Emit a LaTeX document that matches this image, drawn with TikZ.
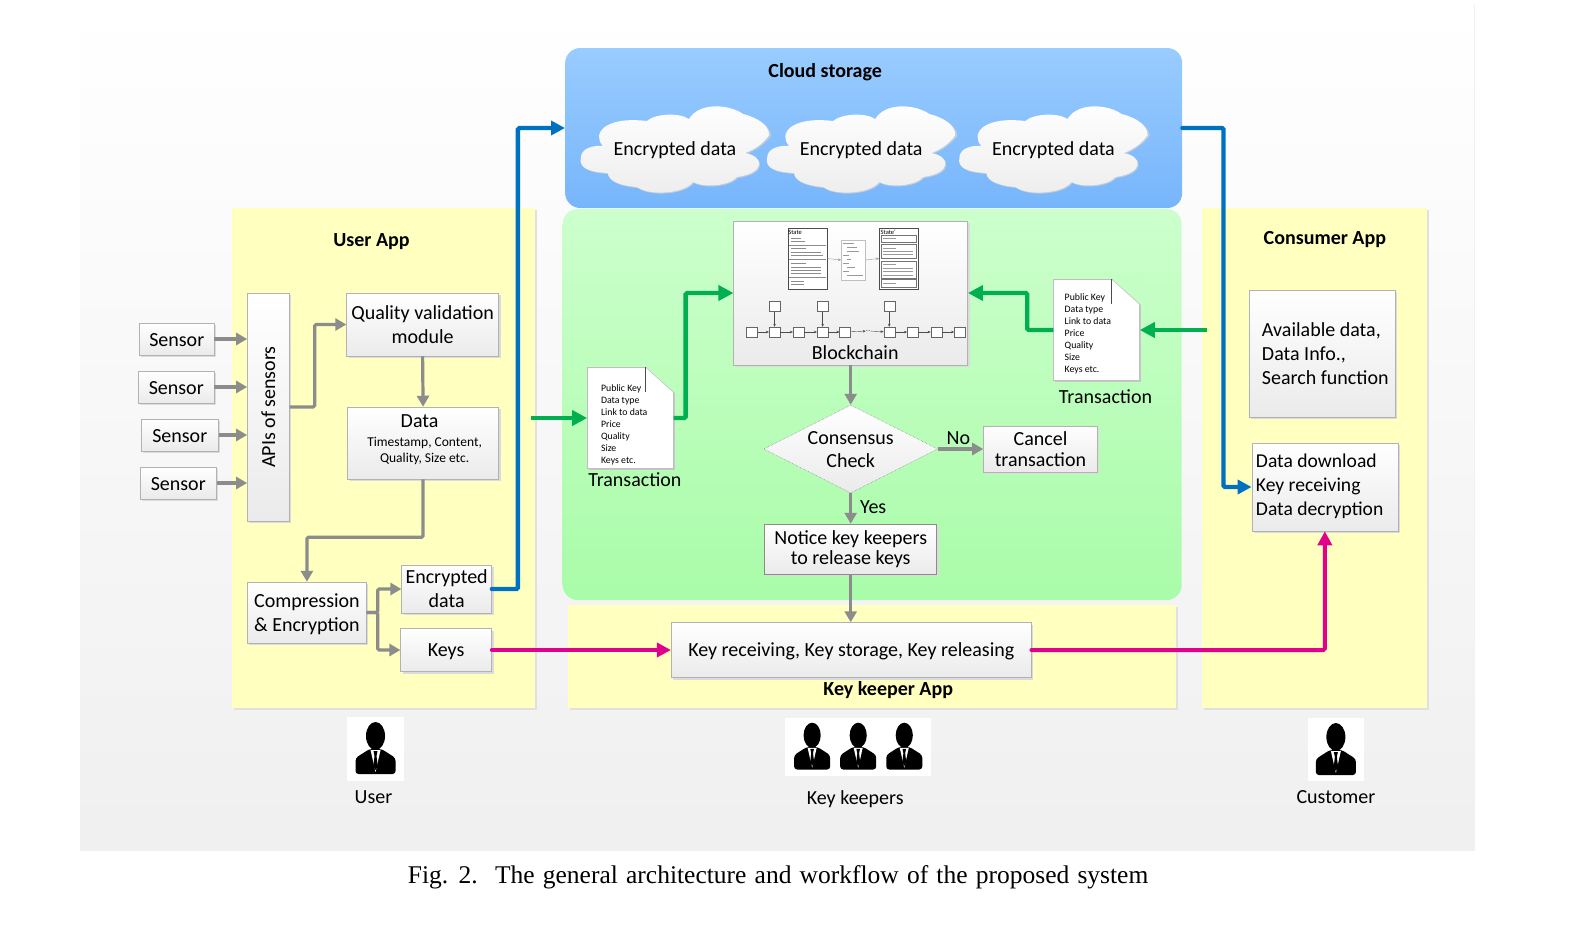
\documentclass[tikz,border=0pt]{standalone}
\usepackage{fontspec}
\setmainfont{Carlito}
\newfontfamily\capfont{Liberation Serif}
\usetikzlibrary{calc,arrows.meta,shapes.geometric,shadows}

\definecolor{panelyellow}{HTML}{FFFFC0}
\definecolor{cloudtop}{HTML}{99CCFF}
\definecolor{cloudbot}{HTML}{77B5FB}
\definecolor{chaintop}{HTML}{CCFFCC}
\definecolor{chainbot}{HTML}{A9FCA9}
\definecolor{flowgray}{HTML}{8C8C8C}
\definecolor{flowblue}{HTML}{0070C0}
\definecolor{flowgreen}{HTML}{00B050}
\definecolor{flowpink}{HTML}{E0008C}

\tikzset{
  boxnode/.style={rectangle,draw=black!30,line width=0.5pt,top color=white,bottom color=black!8,
    general shadow={shadow xshift=2pt,shadow yshift=-2pt,fill=black!14},
    inner sep=0pt,align=center,font=\fontsize{20}{24}\selectfont},
  docnode/.style={rectangle,draw=black!25,line width=0.5pt,fill=white,
    general shadow={shadow xshift=1.5pt,shadow yshift=-1.5pt,fill=black!22},
    inner sep=0pt,minimum width=86pt,minimum height=101pt},
  doctext/.style={anchor=north west,inner sep=0pt,align=left,font=\fontsize{9.8}{12}\selectfont},
  panelnode/.style={rectangle,fill=panelyellow,
    general shadow={shadow xshift=2pt,shadow yshift=-2pt,fill=black!12},inner sep=0pt},
  labelnode/.style={inner sep=0pt,yshift=-1.5pt,font=\fontsize{20}{24}\selectfont},
  titlenode/.style={inner sep=0pt,yshift=-2.5pt,font=\fontsize{20}{24}\selectfont\bfseries},
  grayflow/.style={draw=flowgray,line width=3.2pt,rounded corners=1.5pt,-{Triangle[length=11pt,width=12pt]}},
  blueflow/.style={draw=flowblue,line width=4.4pt,rounded corners=1.5pt,line cap=round,-{Triangle[length=14pt,width=14pt]}},
  greenflow/.style={draw=flowgreen,line width=4.4pt,rounded corners=1.5pt,-{Triangle[length=15pt,width=15pt]}},
  pinkflow/.style={draw=flowpink,line width=4pt,rounded corners=1.5pt,line cap=round,-{Triangle[length=14pt,width=14pt]}},
  minibox/.style={rectangle,draw=black!60,line width=0.4pt,fill=white,inner sep=0pt,
    minimum width=11pt,minimum height=10pt},
  miniarrow/.style={draw=black!70,line width=0.4pt,-{Stealth[length=3pt,width=2.5pt]}},
  cloudicon/.pic={
    \fill[cloudbot!60!black!35!white] (-92,11) .. controls (-92,1) and (-79,-2) .. (-70,-1)
      .. controls (-81,-13) and (-69,-31) .. (-26,-26)
      .. controls (-19,-33) and (6,-35) .. (16,-28)
      .. controls (26,-45) and (56,-43) .. (70,-33)
      .. controls (86,-29) and (97,-21) .. (97,-12)
      .. controls (91,-4) and (81,3) .. (72,6)
      .. controls (91,9) and (93,26) .. (64,30)
      .. controls (56,39) and (31,41) .. (20,35)
      .. controls (11,47) and (-24,49) .. (-36,40)
      .. controls (-49,39) and (-65,35) .. (-65,26)
      .. controls (-84,25) and (-94,21) .. (-92,11) -- cycle;
    \shade[top color=white,bottom color=black!7] (-93,10) .. controls (-93,0) and (-80,-3) .. (-71,-2)
      .. controls (-82,-14) and (-70,-32) .. (-27,-27)
      .. controls (-20,-34) and (5,-36) .. (15,-29)
      .. controls (25,-46) and (55,-44) .. (69,-34)
      .. controls (85,-30) and (95,-22) .. (95,-13)
      .. controls (90,-5) and (80,2) .. (71,5)
      .. controls (90,8) and (92,25) .. (63,29)
      .. controls (55,38) and (30,40) .. (19,34)
      .. controls (10,46) and (-25,48) .. (-37,39)
      .. controls (-50,38) and (-66,34) .. (-66,25)
      .. controls (-85,24) and (-95,20) .. (-93,10) -- cycle;
  },
  personicon/.pic={
    \fill[black] (0,-13) ellipse [x radius=9.5,y radius=14];
    \fill[black,rounded corners=3pt] (-20,25) -- (-20,9) -- (-6,0) -- (6,0) -- (20,9) -- (20,25) -- cycle;
    \fill[white] (-5,1) -- (5,1) -- (0,23) -- cycle;
    \fill[black] (-2,2) -- (2,2) -- (1,7) -- (2.2,17) -- (0,21) -- (-2.2,17) -- (-1,7) -- cycle;
  }
}

\begin{document}
\begin{tikzpicture}[x=1.0014pt,y=-1pt]
\useasboundingbox (0,0) rectangle (1567.8,927);

% page and the large areas
\shade[top color=white,bottom color=black!6] (80,5) rectangle (1472,850);
\draw[black!6] (1472,5) -- (1472,850);
\node[panelnode,minimum width=303pt,minimum height=500pt] (userapp) at (383,458) {};
\node[panelnode,minimum width=225pt,minimum height=500pt] (consumerapp) at (1312.5,458) {};
\node[panelnode,minimum width=608pt,minimum height=103pt] (keeperapp) at (871,656.5) {};
\node[rectangle,rounded corners=15pt,top color=chaintop,bottom color=chainbot,
  minimum width=619pt,minimum height=391pt,inner sep=0pt] (chainarea) at (871,404.5) {};
\node[rectangle,rounded corners=15pt,top color=cloudtop,bottom color=cloudbot,
  minimum width=617pt,minimum height=160pt,inner sep=0pt] (cloudarea) at (872.5,128) {};

\node[titlenode] (cloudtitle) at (824,70) {Cloud storage};
\node[titlenode] (usertitle) at (371,239) {User App};
\node[titlenode] (consumertitle) at (1323,237) {Consumer App};
\node[titlenode] (keepertitle) at (887,688) {Key keeper App};

% the three clouds
\pic at (673,148) {cloudicon};
\pic at (859,148) {cloudicon};
\pic at (1051,148) {cloudicon};
\node[labelnode] (cloudA) at (674,149) {Encrypted data};
\node[labelnode] (cloudB) at (860,149) {Encrypted data};
\node[labelnode] (cloudC) at (1052,149) {Encrypted data};

% user app
\node[boxnode,minimum width=75pt,minimum height=32pt,text height=15.5pt] (sensorA) at (176.5,339) {Sensor};
\node[boxnode,minimum width=76pt,minimum height=32pt,text height=15.5pt] (sensorB) at (176,387) {Sensor};
\node[boxnode,minimum width=77pt,minimum height=32pt,text height=15.5pt] (sensorC) at (179.5,435) {Sensor};
\node[boxnode,minimum width=76pt,minimum height=32pt,text height=15.5pt] (sensorD) at (178,483) {Sensor};
\node[boxnode,minimum width=228pt,minimum height=42pt,rotate=90] (apis) at (268,407) {APIs of sensors};
\node[boxnode,minimum width=152pt,minimum height=63pt] (quality) at (422,324.5) {Quality validation\\module};
\node[boxnode,minimum width=151pt,minimum height=72pt] (data) at (422.5,443) {};
\node[labelnode] (datatitle) at (419,419.5) {Data};
\node[inner sep=0pt,align=center,font=\fontsize{13.5}{16}\selectfont] (datatext) at (424,450.5) {Timestamp, Content,\\Quality, Size etc.};
\node[boxnode,minimum width=119pt,minimum height=61pt,text depth=0pt] (compress) at (306.5,612.5) {Compression\\\& Encryption};
\node[boxnode,minimum width=90pt,minimum height=48pt] (encdata) at (446,589) {Encrypted\\data};
\node[boxnode,minimum width=91pt,minimum height=43pt,text depth=0pt] (keys) at (445.5,650) {Keys};

% the two transactions
\node[docnode] (txleft) at (629.5,418) {};
\fill[chaintop!56!chainbot] ($(txleft.north east)+(-28,-1)$) -- ($(txleft.north east)+(3,-1)$) -- ($(txleft.north east)+(3,26)$) -- ($(txleft.north east)+(0,25)$) -- cycle;
\draw[black!25,line width=0.6pt] ($(txleft.north east)+(-28,0)$) -- ($(txleft.north east)+(0,25)$);
\draw[black!70,line width=0.6pt] ($(txleft.north east)+(-28,0)$) -- ($(txleft.north east)+(-28,25)$);
\node[doctext] (txlefttext) at (600,384) {Public Key\\Data type\\Link to data\\Price\\Quality\\Size\\Keys etc.};
\node[labelnode] (txleftlabel) at (634,478) {Transaction};
\node[docnode] (txright) at (1095,330) {};
\fill[chaintop!78!chainbot] ($(txright.north east)+(-28,-1)$) -- ($(txright.north east)+(3,-1)$) -- ($(txright.north east)+(3,26)$) -- ($(txright.north east)+(0,25)$) -- cycle;
\draw[black!25,line width=0.6pt] ($(txright.north east)+(-28,0)$) -- ($(txright.north east)+(0,25)$);
\draw[black!70,line width=0.6pt] ($(txright.north east)+(-28,0)$) -- ($(txright.north east)+(-28,25)$);
\node[doctext] (txrighttext) at (1063,293) {Public Key\\Data type\\Link to data\\Price\\Quality\\Size\\Keys etc.};
\node[labelnode] (txrightlabel) at (1104,395) {Transaction};

% blockchain box with its small drawing
\node[boxnode,minimum width=234pt,minimum height=144pt] (chain) at (849.5,293) {};
\node[labelnode] (chainlabel) at (854,351) {Blockchain};
\node[rectangle,draw=black!70,line width=0.6pt,fill=white,inner sep=0pt,minimum width=39pt,minimum height=61pt] (stateA) at (806.5,258.5) {};
\node[rectangle,draw=black!25,line width=0.3pt,fill=white,inner sep=0pt,minimum width=24pt,minimum height=40pt] (execbox) at (852,260) {};
\node[rectangle,draw=black!70,line width=0.6pt,fill=white,inner sep=0pt,minimum width=39pt,minimum height=61pt] (stateB) at (897.5,258.5) {};
\node[inner sep=0pt,font=\fontsize{6.5}{7}\selectfont] (stateAtext) at (794,232) {State};
\node[inner sep=0pt,font=\fontsize{6.5}{7}\selectfont] (stateBtext) at (887,232) {State'};
\draw[black!45,line width=0.35pt] (790,238) -- (800,238) (790,241) -- (804,241) (788,245) -- (825,245)
  (790,248) -- (805,248) (790,252) -- (820,252) (790,255) -- (822,255) (788,259) -- (825,259)
  (790,263) -- (805,263) (790,267) -- (820,267) (790,270) -- (820,270) (790,273) -- (820,273)
  (788,277) -- (825,277) (790,281) -- (803,281) (790,284) -- (803,284);
\draw[black!55,line width=0.4pt] (880,235) rectangle (915,242) (880,244) rectangle (915,258) (880,261) rectangle (915,278) (880,279) rectangle (915,287);
\draw[black!40,line width=0.35pt] (882,238) -- (895,238) (882,248) -- (895,248) (882,251) -- (912,251) (882,254) -- (912,254)
  (882,264) -- (895,264) (882,268) -- (912,268) (882,271) -- (912,271) (882,275) -- (912,275) (882,283) -- (895,283);
\draw[black!40,line width=0.35pt] (842,243) -- (853,243) (846,247) -- (856,247) (846,251) -- (858,251) (842,255) -- (848,255)
  (846,259) -- (850,259) (842,263) -- (848,263) (846,267) -- (854,267) (842,271) -- (848,271) (846,275) -- (862,275);
\draw[miniarrow,draw=black!40] (stateA.east) -- (execbox.west);
\draw[miniarrow,draw=black!40] (execbox.east) -- (stateB.west);
\node[minibox] (blockA) at (751,332) {};
\node[minibox] (blockB) at (773.5,332) {};
\node[minibox] (blockC) at (797.5,332) {};
\node[minibox] (blockD) at (821.5,332) {};
\node[minibox] (blockE) at (844,332) {};
\node[minibox] (blockF) at (888,332) {};
\node[minibox] (blockG) at (911.5,332) {};
\node[minibox] (blockH) at (935,332) {};
\node[minibox] (blockI) at (958.5,332) {};
\node[minibox] (txA) at (773.5,306.5) {};
\node[minibox] (txB) at (821.5,306.5) {};
\node[minibox] (txC) at (888,306.5) {};
\node[inner sep=0pt,font=\fontsize{6}{7}\selectfont] (chaindots) at (867,331) {...};
\draw[miniarrow] (txA) -- (blockB);
\draw[miniarrow] (txB) -- (blockD);
\draw[miniarrow] (txC) -- (blockF);
\draw[miniarrow] (blockA) -- (blockB);
\draw[miniarrow] (blockB) -- (blockC);
\draw[miniarrow] (blockC) -- (blockD);
\draw[miniarrow] (blockD) -- (blockE);
\draw[miniarrow] (blockE) -- (chaindots);
\draw[miniarrow] (chaindots) -- (blockF);
\draw[miniarrow] (blockF) -- (blockG);
\draw[miniarrow] (blockG) -- (blockH);
\draw[miniarrow] (blockH) -- (blockI);

% consensus and what follows it
\node[diamond,draw=black!50,line width=0.5pt,densely dotted,top color=white,bottom color=black!8,aspect=1.98,inner sep=0pt,
  minimum width=174pt,minimum height=88pt] (consensus) at (849.5,449) {};
\node[inner sep=0pt,align=center,font=\fontsize{20}{23}\selectfont] (consensustext) at (849.5,450) {Consensus\\Check};
\node[boxnode,minimum width=114pt,minimum height=46pt,font=\fontsize{20}{21}\selectfont] (cancel) at (1039,449) {Cancel\\transaction};
\node[boxnode,minimum width=172pt,minimum height=50pt,draw=black!45,font=\fontsize{20}{20}\selectfont,text depth=2pt] (notice) at (849.5,549) {Notice key keepers\\to release keys};
\node[labelnode] (nolabel) at (957,437) {No};
\node[labelnode] (yeslabel) at (872,506) {Yes};

% key keeper and consumer
\node[boxnode,minimum width=360pt,minimum height=55pt,text depth=0pt] (keyrecv) at (850,650) {Key receiving, Key storage, Key releasing};
\node[boxnode,minimum width=146pt,minimum height=127pt] (available) at (1320,353.5) {};
\node[anchor=west,inner sep=0pt,align=left,font=\fontsize{20}{24}\selectfont] (availabletext) at (1260,353.5) {Available data,\\Data Info.,\\Search function};
\node[boxnode,minimum width=146pt,minimum height=88pt] (dataload) at (1323,487) {};
\node[anchor=west,inner sep=0pt,align=left,font=\fontsize{19.6}{24}\selectfont] (dataloadtext) at (1254,486.5) {Data download\\Key receiving\\Data decryption};

% people
\fill[white] (347,717) rectangle (403,781);
\fill[white] (784,718) rectangle (930,776);
\fill[white] (1306,718) rectangle (1362,781);
\pic at (375,749) {personicon};
\pic[scale=.9] at (811,747) {personicon};
\pic[scale=.9] at (857,747) {personicon};
\pic[scale=.9] at (903,747) {personicon};
\pic at (1334,750) {personicon};
\node[labelnode] (userlabel) at (373,796) {User};
\node[labelnode] (keeperlabel) at (854,798) {Key keepers};
\node[labelnode] (customerlabel) at (1334,796) {Customer};

% free ends of the two green arrows
\coordinate (greenin) at (530,418);
\coordinate (greenout) at (1205,330);

% gray flow
\draw[grayflow] (sensorA.east) -- (sensorA.east -| apis.north);
\draw[grayflow] (sensorB.east) -- (sensorB.east -| apis.north);
\draw[grayflow] (sensorC.east) -- (sensorC.east -| apis.north);
\draw[grayflow] (sensorD.east) -- (sensorD.east -| apis.north);
\draw[grayflow] (apis.south) -- ++(25,0) |- (quality.west);
\draw[grayflow] (quality.south) -- (data.north);
\draw[grayflow] (data.south) -- ++(0,58) -| (compress.north);
\draw[grayflow] (compress.east) -- ++(11,0) |- (encdata.west);
\draw[grayflow] (compress.east) -- ++(11,0) |- (keys.west);
\draw[grayflow] (chain.south) -- (consensus.north);
\draw[grayflow] (consensus.east) -- (cancel.west);
\draw[grayflow] (consensus.south) -- (notice.north);
\draw[grayflow] (notice.south) -- (notice.south |- keyrecv.north);

% coloured flow
\draw[blueflow] (encdata.east) -- ++(26,0) |- (cloudarea.west);
\draw[blueflow] (cloudarea.east) -- ++(41,0) |- (dataload.west);
\draw[greenflow] (greenin) -- (txleft.west);
\draw[greenflow] (txleft.east) -- ++(12,0) |- (chain.west);
\draw[greenflow] (greenout) -- (txright.east);
\draw[greenflow] (txright.west) -- ++(-26,0) |- (chain.east);
\draw[pinkflow] (keys.east) -- (keyrecv.west);
\draw[pinkflow] (keyrecv.east) -| (dataload.south);

% caption
\node[inner sep=0pt,yshift=-3pt,font=\capfont\fontsize{25.5}{28}\selectfont] (caption) at (777,874) {\spaceskip=8.2pt Fig. 2.\hspace{7pt} The general architecture and workflow of the proposed system};
\end{tikzpicture}
\end{document}
